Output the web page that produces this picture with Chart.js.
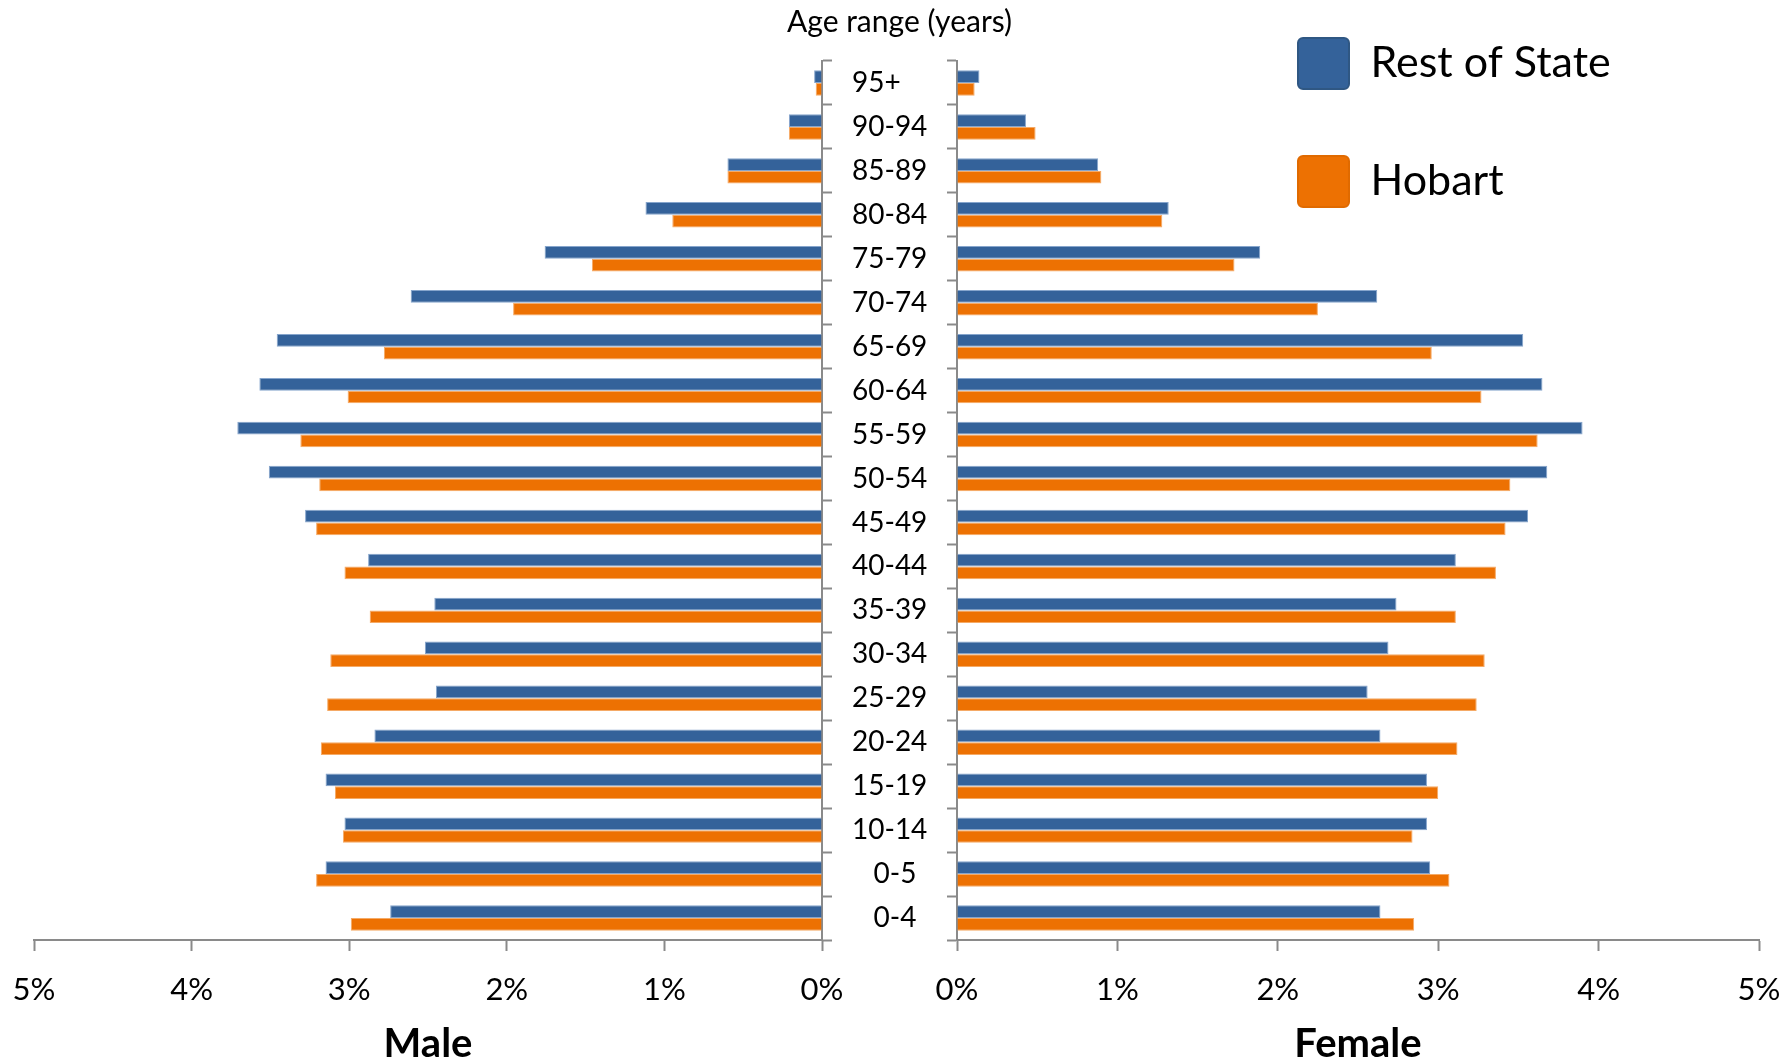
<!DOCTYPE html>
<html><head><meta charset="utf-8">
<script src="https://cdn.jsdelivr.net/npm/chart.js@4.4.1/dist/chart.umd.min.js"></script>
<style>
html,body{margin:0;padding:0;background:#fff;overflow:hidden;width:1785px;height:1064px;}
canvas{position:absolute;}
#male{left:0;top:0;}
#female{left:787px;top:0;}
#legend{left:1231px;top:-29px;}
</style></head><body>
<canvas id="male" width="1000" height="1064"></canvas>
<canvas id="female" width="998" height="1064"></canvas>
<canvas id="legend" width="554" height="400"></canvas>
<script>
// Categories, top to bottom (as in the reference)
const ageGroups = ['95+','90-94','85-89','80-84','75-79','70-74','65-69','60-64','55-59','50-54',
  '45-49','40-44','35-39','30-34','25-29','20-24','15-19','10-14','   0-5','   0-4'];
const seriesNames = ['Rest of State', 'Hobart'];
// Male, percent of population
const maleRestOfState = [0.05,0.21,0.60,1.12,1.76,2.61,3.46,3.57,3.71,3.51,3.28,2.88,2.46,2.52,2.45,2.84,3.15,3.03,3.15,2.74];
const maleHobart      = [0.04,0.21,0.60,0.95,1.46,1.96,2.78,3.01,3.31,3.19,3.21,3.03,2.87,3.12,3.14,3.18,3.09,3.04,3.21,2.99];
// Female, percent of population
const femaleRestOfState = [0.14,0.43,0.88,1.32,1.89,2.62,3.53,3.65,3.90,3.68,3.56,3.11,2.74,2.69,2.56,2.64,2.93,2.93,2.95,2.64];
const femaleHobart      = [0.11,0.49,0.90,1.28,1.73,2.25,2.96,3.27,3.62,3.45,3.42,3.36,3.11,3.29,3.24,3.12,3.00,2.84,3.07,2.85];
const axisMin = 0, axisMax = 5, axisStep = 1;

const BLUE = '#34629A', ORANGE = '#ED7102';
const BLUE_EDGE = '#86a5cc', ORANGE_EDGE = '#f5aa66';
const AXIS = '#8a8a8a';

Chart.defaults.font.family = 'Lato, "Open Sans", sans-serif';
Chart.defaults.color = '#000';

function barDatasets(a, b) {
  return [
    {label: seriesNames[0], data: a, backgroundColor: BLUE, borderColor: BLUE_EDGE, borderWidth: 1,
     categoryPercentage: 0.58, barPercentage: 1.0},
    {label: seriesNames[1], data: b, backgroundColor: ORANGE, borderColor: ORANGE_EDGE, borderWidth: 1,
     categoryPercentage: 0.58, barPercentage: 1.0}
  ];
}

function xScale(reverse, titleText) {
  return {
    type: 'linear', reverse: reverse, min: axisMin, max: axisMax,
    afterFit: s => { s.height = 124; s.paddingLeft = 0; s.paddingRight = 0; },
    grid: {drawOnChartArea: false, drawTicks: true, tickLength: 11, tickColor: AXIS, tickWidth: 2},
    border: {display: true, color: AXIS, width: 2},
    ticks: {stepSize: axisStep, padding: 20, color: '#000', font: {size: 31},
            callback: v => v + '%'},
    title: {display: true, text: titleText, color: '#000', font: {size: 40, weight: 'bold', lineHeight: 1.0},
            padding: {top: 0, bottom: 0}}
  };
}

new Chart(document.getElementById('male'), {
  type: 'bar',
  data: {labels: ageGroups, datasets: barDatasets(maleRestOfState, maleHobart)},
  options: {
    indexAxis: 'y', responsive: false, animation: false,
    layout: {padding: {left: 34, top: 61, right: 0, bottom: 0}},
    plugins: {legend: {display: false}, tooltip: {enabled: false}, title: {display: false}},
    scales: {
      x: xScale(true, 'Male'),
      y: {
        position: 'right',
        afterFit: s => { s.width = 178; },
        grid: {drawOnChartArea: false, drawTicks: true, tickLength: 10, tickColor: AXIS, tickWidth: 2, offset: true},
        border: {display: true, color: AXIS, width: 2},
        ticks: {crossAlign: 'near', padding: 20, autoSkip: false, color: '#000', font: {size: 28}}
      }
    }
  }
});

new Chart(document.getElementById('female'), {
  type: 'bar',
  data: {labels: ageGroups, datasets: barDatasets(femaleRestOfState, femaleHobart)},
  options: {
    indexAxis: 'y', responsive: false, animation: false,
    layout: {padding: {left: 0, top: 0, right: 26, bottom: 0}},
    plugins: {
      legend: {display: false}, tooltip: {enabled: false},
      title: {display: true, text: 'Age range (years)', align: 'start', color: '#000',
              font: {size: 30, weight: 'normal', lineHeight: 1.2}, padding: {top: 4, bottom: 21}}
    },
    scales: {
      x: xScale(false, 'Female'),
      y: {
        position: 'left',
        afterFit: s => { s.width = 170; },
        grid: {drawOnChartArea: false, drawTicks: true, tickLength: 10, tickColor: AXIS, tickWidth: 2, offset: true},
        border: {display: true, color: AXIS, width: 2},
        ticks: {display: false}
      }
    }
  }
});

// Legend-only chart (series names and colours; no marks)
new Chart(document.getElementById('legend'), {
  type: 'bar',
  data: {labels: [], datasets: [
    {label: seriesNames[0], data: [], backgroundColor: BLUE, borderColor: '#2f5783', borderWidth: 2},
    {label: seriesNames[1], data: [], backgroundColor: ORANGE, borderColor: '#e06a00', borderWidth: 2}
  ]},
  options: {
    responsive: false, animation: false,
    layout: {padding: 0},
    scales: {x: {display: false}, y: {display: false}},
    plugins: {
      tooltip: {enabled: false},
      legend: {position: 'left', align: 'start', maxWidth: 520,
        labels: {boxWidth: 51, boxHeight: 51, padding: 67, color: '#000', font: {size: 43},
                 useBorderRadius: true, borderRadius: 5}}
    }
  }
});
</script>
</body></html>
